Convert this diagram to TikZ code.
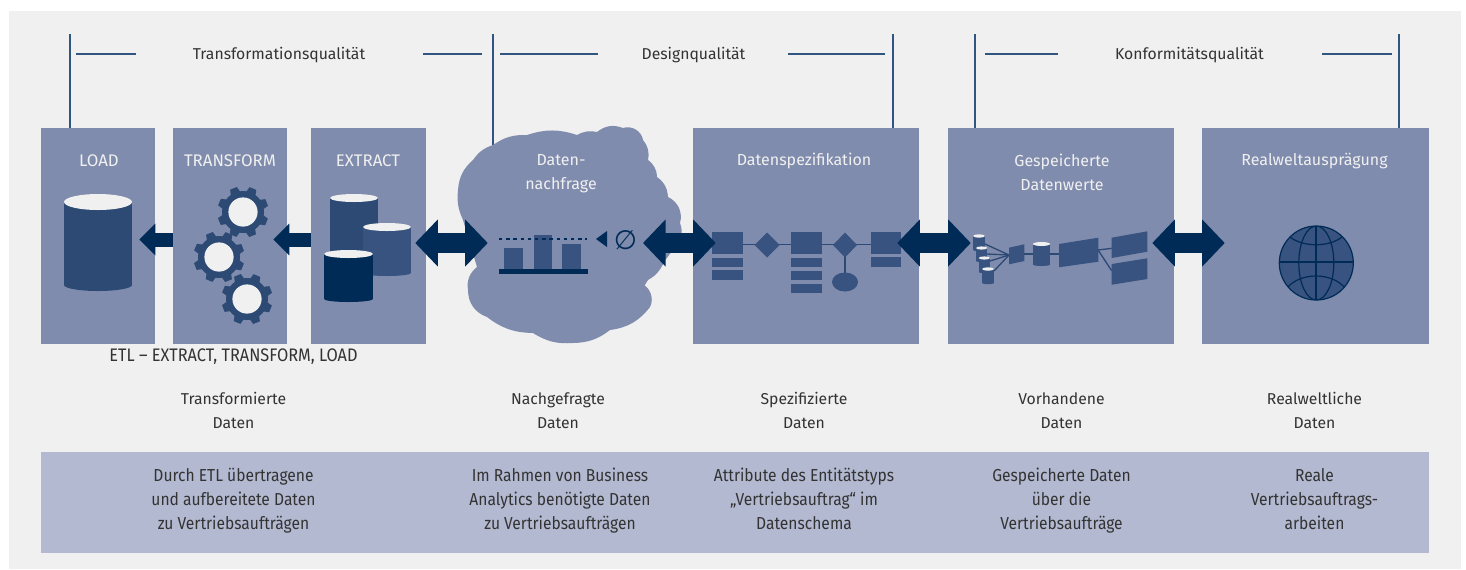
\documentclass[tikz,border=0pt]{standalone}
\usepackage{fontspec}
\usetikzlibrary{arrows.meta,calc}
\setmainfont{Fira Sans}
\newfontfamily\narrowfont{Fira Sans}[FakeStretch=0.9]
\newfontfamily\symfont{DejaVu Sans}
\definecolor{bgc}{HTML}{F0F0F0}
\definecolor{boxc}{HTML}{808CAD}
\definecolor{bandc}{HTML}{B3B9D0}
\definecolor{navy}{HTML}{002B56}
\definecolor{blue1}{HTML}{2D4A75}
\definecolor{blue2}{HTML}{38537F}
\definecolor{linec}{HTML}{2F5580}
\definecolor{textc}{HTML}{333333}
\tikzset{
  panel/.style={fill=boxc,inner sep=0pt,minimum height=162pt},
  band/.style={fill=bandc,inner sep=0pt},
  title/.style={text=bgc,align=center,inner sep=0pt,font=\fontsize{12}{18}\selectfont},
  upper title/.style={text=bgc,align=center,inner sep=0pt,font=\fontsize{12.6}{18}\selectfont},
  heading/.style={text=textc,align=center,inner sep=0pt,font=\fontsize{11.8}{18}\selectfont},
  caption/.style={text=textc,align=center,inner sep=0pt,font=\narrowfont\fontsize{13}{18}\selectfont},
  etl caption/.style={text=textc,align=center,inner sep=0pt,font=\narrowfont\fontsize{13.6}{18}\selectfont},
  bracket/.style={draw=linec,line width=0.85pt},
  rule/.style={draw=linec,line width=1.2pt},
  small arrow/.style={draw=navy,line width=10.5pt,-{Triangle[length=12pt,width=23.25pt,fill=navy]}},
  both arrow/.style={draw=navy,line width=15.4pt,{Triangle[length=17pt,width=34.5pt,fill=navy]}-{Triangle[length=17pt,width=34.5pt,fill=navy]}},
  thin link/.style={draw=blue1,line width=1pt},
}
\newcommand{\cylinder}[6]{%
  \fill[#6] (#1,#3) rectangle (#2,#4);
  \fill[#6] ({(#1+#2)/2},#4) ellipse [x radius={(#2-#1)/2},y radius=#5*0.75];
  \fill[bgc] ({(#1+#2)/2},#3) ellipse [x radius={(#2-#1)/2},y radius=#5];
}
\newcommand{\gearicon}[2]{%
  \fill[blue1] (#1,#2) circle [radius=21];
  \foreach \a in {0,45,...,315}{
    \fill[blue1,rotate around={\a+22:(#1,#2)}] (#1-5,#2-20) -- (#1-3.6,#2-25.5) -- (#1+3.6,#2-25.5) -- (#1+5,#2-20) -- cycle;
  }
  \fill[bgc] (#1,#2) circle [radius=14.6];
}
\begin{document}
\begin{tikzpicture}[x=0.75pt,y=-0.75pt]
\useasboundingbox (0,0) rectangle (1466,569);
\fill[bgc] (9,11) rectangle (1461,569);

% panels
\node[panel,minimum width=85.5pt] (load) at (98,236) {};
\node[panel,minimum width=85.5pt] (transform) at (230,236) {};
\node[panel,minimum width=86.25pt] (extract) at (368.5,236) {};
\node[panel,minimum width=169.5pt] (spec) at (806,236) {};
\node[panel,minimum width=169.5pt] (stored) at (1061,236) {};
\node[panel,minimum width=170.25pt] (real) at (1315.5,236) {};
\node[band,minimum width=1041pt,minimum height=75.75pt] (lower) at (735,502.5) {};

% cloud
\coordinate (q1) at (493,145);
\draw[bracket] (493,34) -- (q1);
\fill[boxc] (493,145) to[bend left=18] (527,135) to[bend left=18] (577,135) to[bend left=20] (597,132)
  to[bend left=30] (623,128) to[bend left=50] (643,140) to[bend left=25] (648,160) to[bend left=25] (657,177)
  to[bend left=25] (668,197) to[bend left=40] (680,223) to[bend left=20] (680,240) -- (664,262)
  to[bend left=25] (640,283) to[bend left=50] (650,307) to[bend left=22] (610,330) to[bend left=18] (573,343)
  to[bend left=18] (533,333) to[bend left=18] (487,317) to[bend left=35] (468,290) to[bend left=30] (477,267)
  -- (463,220) to[bend left=15] (458,190) to[bend left=22] (473,160) to[bend left=18] (493,145) -- cycle;
\fill[boxc] (570,235) circle [radius=90];

% brackets
\coordinate (v1) at (70,34);
\coordinate (v3) at (893,34);
\coordinate (v4) at (975,34);
\coordinate (v5) at (1399,34);
\draw[bracket] (v1) -- (v1 |- load.north);
\draw[bracket] (v3) -- (v3 |- spec.north);
\draw[bracket] (v4) -- (v4 |- stored.north);
\draw[bracket] (v5) -- (v5 |- real.north);
\draw[rule] (76,54) -- (136,54);
\draw[rule] (423,54) -- (482,54);
\draw[rule] (500,54) -- (598,54);
\draw[rule] (788,54) -- (885,54);
\draw[rule] (985,54) -- (1058,54);
\draw[rule] (1322,54) -- (1392,54);
\node[heading] (q-trans) at (279,55) {Transformationsqualität};
\node[heading] (q-design) at (693.5,55) {Designqualität};
\node[heading] (q-konf) at (1189.5,55) {Konformitätsqualität};

% titles
\node[upper title] (t-load) at (99,161) {LOAD};
\node[upper title] (t-trans) at (230,161) {TRANSFORM};
\node[upper title] (t-extr) at (368,161) {EXTRACT};
\node[title,anchor=north] (t-cloud) at (561,154) {Daten-\\nachfrage};
\node[title] (t-spec) at (804,161) {Datenspezifikation};
\node[title,anchor=north] (t-stored) at (1062,154) {Gespeicherte\\Datenwerte};
\node[title] (t-real) at (1314.5,161) {Realweltausprägung};

% load / extract cylinders
\cylinder{64}{132}{202}{285}{8}{blue1}
\cylinder{330}{378}{198}{262}{4}{blue1}
\cylinder{363}{411}{227}{273}{4}{blue2}
\cylinder{324}{373}{254}{299}{4}{navy}

% gears
\gearicon{243}{212}
\gearicon{219}{257}
\gearicon{247}{299}

% chart
\fill[blue2] (504,248) rectangle (523,269);
\fill[blue2] (534,235) rectangle (552,269);
\fill[blue2] (562,244) rectangle (581,269);
\draw[navy,line width=1.6pt,dash pattern=on 2.6pt off 2.8pt] (499,239) -- (587,239);
\node[fill=navy,inner sep=0pt,minimum width=66.75pt,minimum height=3.75pt] (chart) at (543.5,271.5) {};
\fill[navy] (596,239) -- (607,231) -- (607,247) -- cycle;
\node[text=navy,inner sep=0pt,font=\symfont\fontsize{20}{20}\selectfont] (nullsym) at (625.5,240) {∅};

% ER diagram
\draw[thin link] (742,244.5) -- (791,244.5);
\draw[thin link] (822,244.5) -- (871,244.5);
\draw[blue1,line width=1.6pt] (845,245) -- (845,280);
\fill[blue2] (712,232) rectangle (742.7,254);
\fill[blue2] (712,258) rectangle (742.7,267);
\fill[blue2] (712,270) rectangle (742.7,280);
\fill[blue2] (767,232.5) -- (779.5,245) -- (767,257.5) -- (754.5,245) -- cycle;
\fill[blue2] (791,232) rectangle (822,254);
\fill[blue2] (791,258) rectangle (822,267);
\fill[blue2] (791,270.5) rectangle (822,280);
\fill[blue2] (791,284) rectangle (822,293);
\fill[blue2] (845,232.5) -- (857,245) -- (845,257.5) -- (833,245) -- cycle;
\fill[blue2] (845,282) ellipse [x radius=13,y radius=9.5];
\fill[blue2] (871,232) rectangle (901,254);
\fill[blue2] (871,257) rectangle (901,267);

% data flow
\foreach \ya/\xa in {245/985,255/987,262/990,272/994}{
  \draw[thin link] (\xa,\ya-1) -- (1009,255);
}
\cylinder{973}{985}{236}{250}{1.6}{blue2}
\cylinder{976}{987.3}{248}{261}{1.6}{blue2}
\cylinder{978.7}{990}{258}{272}{1.6}{blue2}
\cylinder{982}{994}{269}{283}{1.6}{blue2}
\fill[blue2] (1009,247.7) -- (1024.3,244.3) -- (1024.3,261) -- (1009,264.3) -- cycle;
\draw[thin link] (1024,254) -- (1059,254);
\cylinder{1033}{1050}{244}{264.5}{2}{blue2}
\fill[blue2] (1059,244) -- (1098.3,237.7) -- (1098.3,261.7) -- (1059,267.3) -- cycle;
\draw[thin link] (1098,250) -- (1111.7,248.3);
\draw[thin link] (1098,250) -- (1111.7,270.7);
\fill[blue2] (1111.7,237.7) -- (1147.3,231.3) -- (1147.3,251.7) -- (1111.7,258) -- cycle;
\fill[blue2] (1111.7,264) -- (1147.3,258.3) -- (1147.3,279) -- (1111.7,284.7) -- cycle;

% globe
\fill[blue2] (1316.3,263) circle [radius=37];
\begin{scope}
\clip (1316.3,263) circle [radius=37];
\draw[navy,line width=0.9pt] (1316.3,263) ellipse [x radius=17.5,y radius=37];
\draw[navy,line width=1.6pt] (1316.3,226) -- (1316.3,300);
\draw[navy,line width=1pt] (1279,262) -- (1353,262);
\draw[navy,line width=0.9pt] (1288,235) .. controls (1300,248) and (1332,248) .. (1344,235);
\draw[navy,line width=0.9pt] (1287,288) .. controls (1300,272) and (1332,272) .. (1345,288);
\end{scope}
\draw[navy,line width=0.9pt] (1316.3,263) circle [radius=37];

% arrows
\coordinate (ra) at (0,239.5);
\coordinate (rb) at (0,243);
\draw[small arrow,shorten >=-12pt] (transform.west |- ra) -- (load.east |- ra);
\draw[small arrow,shorten >=-10.5pt] (extract.west |- ra) -- (transform.east |- ra);
\draw[both arrow,shorten <=-8.25pt,shorten >=8.25pt] (extract.east |- rb) -- (chart.west |- rb);
\coordinate (nr) at (643,243);
\draw[both arrow,shorten >=-17.25pt] (nr) -- (spec.west |- rb);
\draw[both arrow,shorten <=-16.5pt,shorten >=-17.25pt] (spec.east |- rb) -- (stored.west |- rb);
\draw[both arrow,shorten <=-16.5pt,shorten >=-17.25pt] (stored.east |- rb) -- (real.west |- rb);

% texts
\node[etl caption] (etl) at (233.5,357) {ETL – EXTRACT, TRANSFORM, LOAD};
\node[heading,anchor=north] (h1) at (233.5,392) {Transformierte\\Daten};
\node[heading,anchor=north] (h2) at (558,392) {Nachgefragte\\Daten};
\node[heading,anchor=north] (h3) at (804,392) {Spezifizierte\\Daten};
\node[heading,anchor=north] (h4) at (1061.5,392) {Vorhandene\\Daten};
\node[heading,anchor=north] (h5) at (1314.5,392) {Realweltliche\\Daten};
\node[caption,anchor=north] (c1) at (233.5,468) {Durch ETL übertragene\\und aufbereitete Daten\\zu Vertriebsaufträgen};
\node[caption,anchor=north] (c2) at (560,468) {Im Rahmen von Business\\Analytics benötigte Daten\\zu Vertriebsaufträgen};
\node[caption,anchor=north] (c3) at (804,468) {Attribute des Entitätstyps\\„Vertriebsauftrag“ im\\Datenschema};
\node[caption,anchor=north] (c4) at (1061.5,468) {Gespeicherte Daten\\über die\\Vertriebsaufträge};
\node[caption,anchor=north] (c5) at (1314.5,468) {Reale\\Vertriebsauftrags-\\arbeiten};
\end{tikzpicture}
\end{document}
